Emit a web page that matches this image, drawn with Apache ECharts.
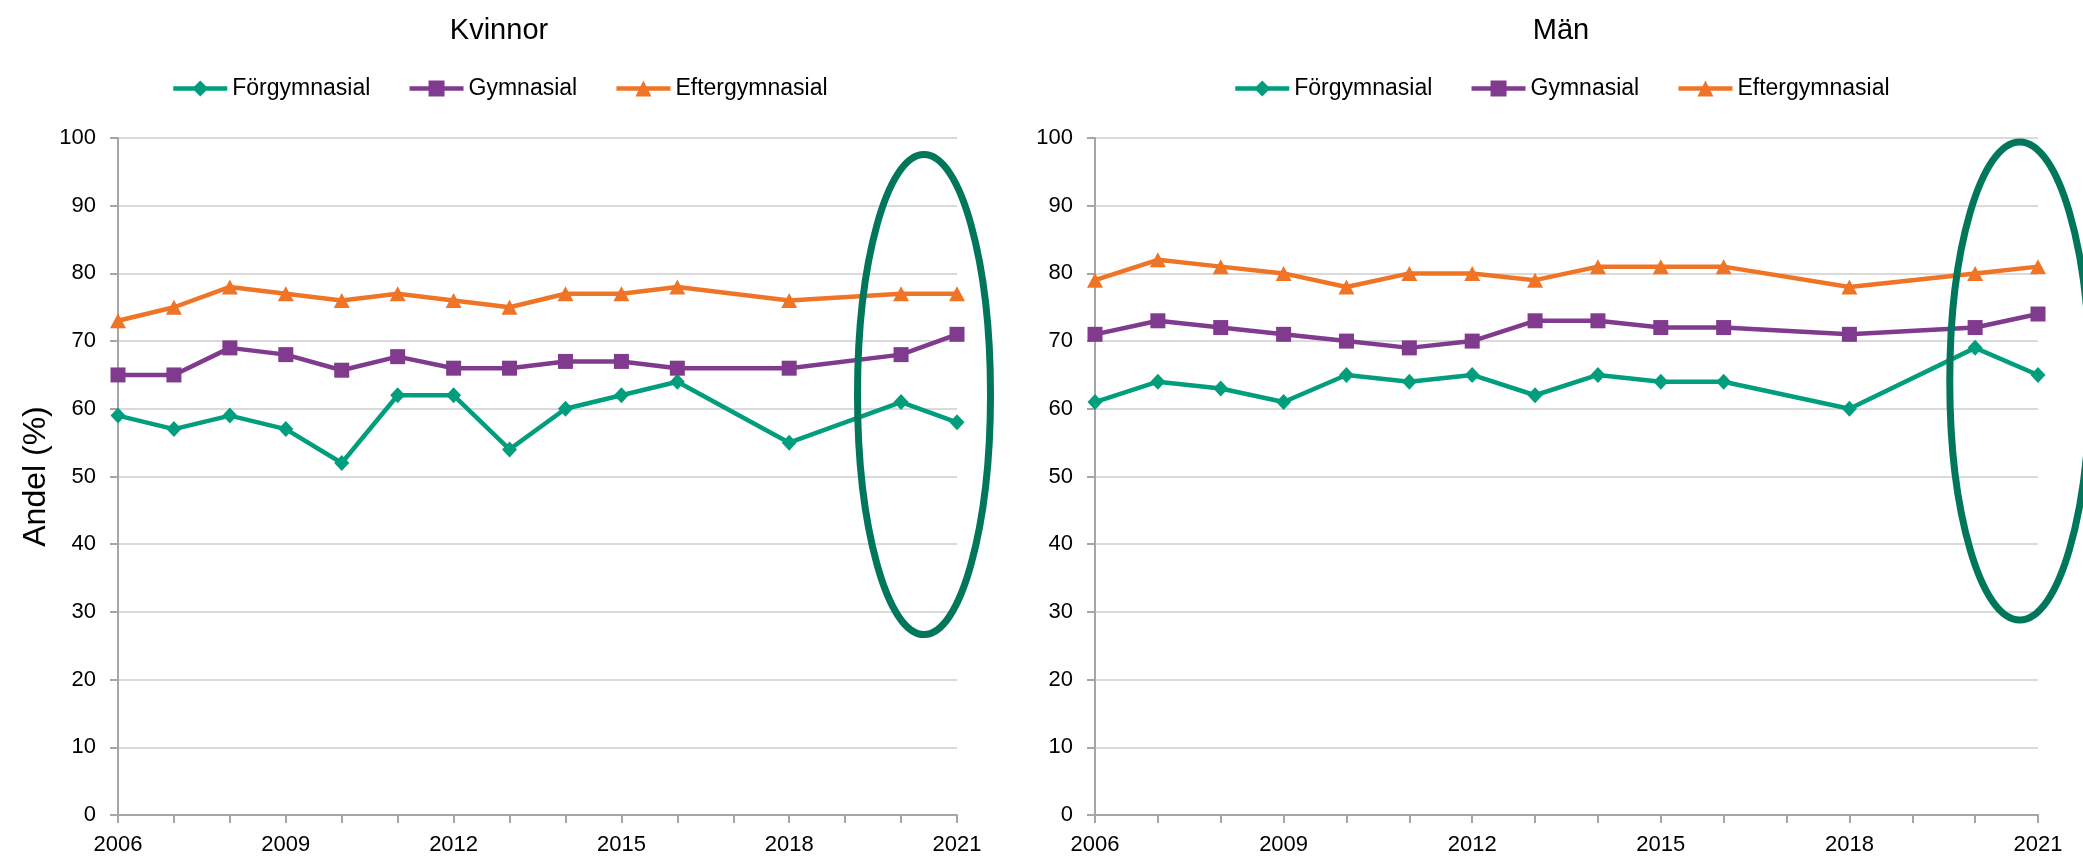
<!DOCTYPE html>
<html>
<head>
<meta charset="utf-8">
<title>Andel (%) – Kvinnor och Män</title>
<script src="https://cdn.jsdelivr.net/npm/echarts@6/dist/echarts.min.js"></script>
<style>
  html, body { margin: 0; padding: 0; background: #fff; }
  #chart { width: 2083px; height: 859px; }
</style>
</head>
<body>
<div id="chart"></div>
<script>
// Survey years (2017 and 2019 are missing in the series)
const years = [2006, 2007, 2008, 2009, 2010, 2011, 2012, 2013, 2014, 2015, 2016, 2018, 2020, 2021];
const xTickLabels = [2006, 2009, 2012, 2015, 2018, 2021];

const seriesNames = ['Förgymnasial', 'Gymnasial', 'Eftergymnasial'];

// Kvinnor
const kvinnorForgymnasial   = [59, 57, 59, 57, 52, 62, 62, 54, 60, 62, 64, 55, 61, 58];
const kvinnorGymnasial      = [65, 65, 69, 68, 65.7, 67.7, 66, 66, 67, 67, 66, 66, 68, 71];
const kvinnorEftergymnasial = [73, 75, 78, 77, 76, 77, 76, 75, 77, 77, 78, 76, 77, 77];

// Män
const manForgymnasial   = [61, 64, 63, 61, 65, 64, 65, 62, 65, 64, 64, 60, 69, 65];
const manGymnasial      = [71, 73, 72, 71, 70, 69, 70, 73, 73, 72, 72, 71, 72, 74];
const manEftergymnasial = [79, 82, 81, 80, 78, 80, 80, 79, 81, 81, 81, 78, 80, 81];

// Highlight rings around the latest years: centre in data units
const kvinnorRing = { year: 2020.41, value: 62.1 };
const manRing     = { year: 2020.71, value: 64.1 };

const FONT = "'Liberation Sans', Arial, sans-serif";
const colors = ['#009E7C', '#803A8E', '#EF7426'];
const symbols = ['diamond', 'rect', 'triangle'];
const symbolSizes = [[15, 16], 15, [16, 15]];
const LINE_W = 4.5;

const chart = echarts.init(document.getElementById('chart'), null, { renderer: 'canvas' });

function toPairs(vals) {
  return years.map((y, i) => [y, vals[i]]);
}

function xAxisFor(gridIndex) {
  return {
    type: 'value',
    gridIndex: gridIndex,
    min: 2006,
    max: 2021,
    interval: 1,
    axisLine: { show: true, onZero: false, lineStyle: { color: '#a6a6a6', width: 2 } },
    axisTick: { show: true, inside: false, length: 8, lineStyle: { color: '#a6a6a6', width: 2 } },
    splitLine: { show: false },
    axisLabel: {
      margin: 19,
      fontFamily: FONT,
      fontSize: 22,
      color: '#000',
      showMinLabel: true,
      showMaxLabel: true,
      hideOverlap: false,
      formatter: v => (xTickLabels.indexOf(v) >= 0 ? String(v) : '')
    }
  };
}

function yAxisFor(gridIndex, withName) {
  const ax = {
    type: 'value',
    gridIndex: gridIndex,
    min: 0,
    max: 100,
    interval: 10,
    axisLine: { show: true, lineStyle: { color: '#a6a6a6', width: 2 } },
    axisTick: { show: true, length: 8, lineStyle: { color: '#a6a6a6', width: 2 } },
    splitLine: { show: true, lineStyle: { color: '#dadada', width: 2 } },
    axisLabel: { margin: 22, fontFamily: FONT, fontSize: 22, color: '#000' }
  };
  if (withName) {
    ax.name = 'Andel (%)';
    ax.nameLocation = 'middle';
    ax.nameGap = 66;
    ax.nameTextStyle = { fontFamily: FONT, fontSize: 32, color: '#000' };
  }
  return ax;
}

function lineSeries(idx, vals, gridIdx) {
  return {
    name: seriesNames[idx],
    type: 'line',
    xAxisIndex: gridIdx,
    yAxisIndex: gridIdx,
    data: toPairs(vals),
    symbol: symbols[idx],
    symbolSize: symbolSizes[idx],
    showAllSymbol: true,
    lineStyle: { color: colors[idx], width: LINE_W },
    itemStyle: { color: colors[idx] },
    emphasis: { disabled: true },
    animation: false,
    z: 3 + idx
  };
}

function legendFor(left) {
  return {
    data: seriesNames.map((n, i) => ({
      name: n,
      itemStyle: { color: colors[i] },
      lineStyle: { color: colors[i], width: LINE_W }
    })),
    left: left,
    top: 72,
    itemWidth: 54,
    itemHeight: 20,
    itemGap: 37,
    textStyle: { fontFamily: FONT, fontSize: 23, color: '#000', padding: [0, 0, 0, 0] },
    selectedMode: false
  };
}

const option = {
  backgroundColor: '#ffffff',
  animation: false,
  title: [
    { text: 'Kvinnor', left: 494, top: 11, textAlign: 'center',
      textStyle: { fontFamily: FONT, fontSize: 29, fontWeight: 'normal', color: '#000' } },
    { text: 'Män', left: 1556, top: 11, textAlign: 'center',
      textStyle: { fontFamily: FONT, fontSize: 29, fontWeight: 'normal', color: '#000' } }
  ],
  legend: [legendFor(166), legendFor(1228)],
  grid: [
    { left: 118, right: 1126, top: 138, bottom: 44, containLabel: false },
    { left: 1095, right: 45, top: 138, bottom: 44, containLabel: false }
  ],
  xAxis: [xAxisFor(0), xAxisFor(1)],
  yAxis: [yAxisFor(0, true), yAxisFor(1, false)],
  series: [
    lineSeries(0, kvinnorForgymnasial, 0),
    lineSeries(1, kvinnorGymnasial, 0),
    lineSeries(2, kvinnorEftergymnasial, 0),
    lineSeries(0, manForgymnasial, 1),
    lineSeries(1, manGymnasial, 1),
    lineSeries(2, manEftergymnasial, 1)
  ]
};

chart.setOption(option);

// Rings drawn around the most recent observations in each panel
function ring(gridIndex, c, rx, ry) {
  const p = chart.convertToPixel({ gridIndex: gridIndex }, [c.year, c.value]);
  return {
    type: 'ellipse',
    shape: { cx: p[0], cy: p[1], rx: rx, ry: ry },
    style: { fill: 'none', stroke: '#00775B', lineWidth: 7 },
    z: 100,
    silent: true
  };
}

chart.setOption({
  graphic: [
    ring(0, kvinnorRing, 66.5, 240),
    ring(1, manRing, 70, 239)
  ]
});
</script>
</body>
</html>
